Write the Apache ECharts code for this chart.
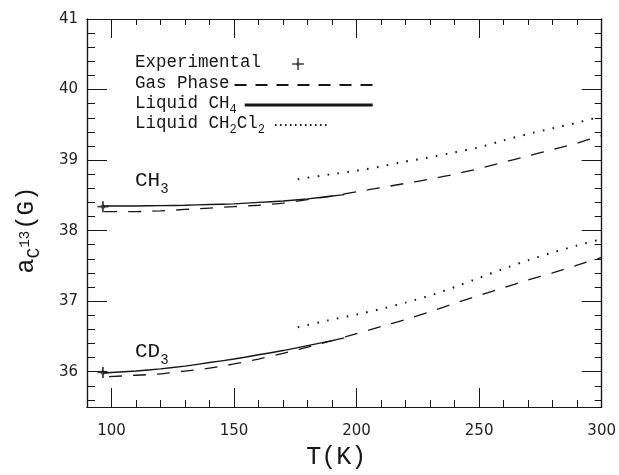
<!DOCTYPE html>
<html>
<head>
<meta charset="utf-8">
<script src="https://cdn.jsdelivr.net/npm/echarts@6/dist/echarts.min.js"></script>
<style>
html, body { margin: 0; padding: 0; background: #fff; }
#chart { width: 619px; height: 475px; }
</style>
</head>
<body>
<div id="chart"></div>
<script>
// axis ranges and tick labels
var tMin = 90, tMax = 300;
var aMin = 35.5, aMax = 41;
var xMajor = [100, 150, 200, 250, 300];
var yMajor = [36, 37, 38, 39, 40, 41];

// experimental points
var expT = [96.5, 96.5];
var expA = [38.34, 35.99];

// CH3 curves
var gasCH3T = [97, 110, 120, 130, 140, 150, 160, 170, 180, 190, 200, 210, 220, 230, 240, 250, 260, 270, 280, 290, 300];
var gasCH3 = [38.27, 38.27, 38.28, 38.30, 38.32, 38.34, 38.36, 38.39, 38.44, 38.49, 38.55, 38.61, 38.67, 38.73, 38.80, 38.88, 38.97, 39.06, 39.15, 39.24, 39.35];
var ch4CH3T = [96.5, 110, 120, 130, 140, 150, 160, 170, 180, 190, 195];
var ch4CH3 = [38.35, 38.35, 38.355, 38.36, 38.37, 38.38, 38.40, 38.42, 38.45, 38.49, 38.51];
var cl2CH3T = [176, 190, 200, 210, 220, 230, 240, 250, 260, 270, 280, 290, 300];
var cl2CH3 = [38.73, 38.80, 38.85, 38.91, 38.98, 39.04, 39.11, 39.18, 39.28, 39.37, 39.45, 39.53, 39.62];

// CD3 curves
var gasCD3T = [99, 110, 120, 130, 140, 150, 160, 170, 180, 190, 200, 210, 220, 230, 240, 250, 260, 270, 280, 290, 300];
var gasCD3 = [35.93, 35.95, 35.97, 36.01, 36.05, 36.11, 36.18, 36.26, 36.35, 36.44, 36.54, 36.64, 36.74, 36.85, 36.97, 37.08, 37.19, 37.30, 37.40, 37.51, 37.62];
var ch4CD3T = [96.5, 100, 110, 120, 130, 140, 150, 160, 170, 180, 190, 195];
var ch4CD3 = [35.98, 35.99, 36.01, 36.04, 36.08, 36.13, 36.18, 36.24, 36.30, 36.37, 36.44, 36.48];
var cl2CD3T = [176, 190, 200, 210, 220, 230, 240, 250, 260, 270, 280, 290, 300];
var cl2CD3 = [36.63, 36.74, 36.81, 36.89, 36.98, 37.08, 37.20, 37.33, 37.46, 37.58, 37.69, 37.79, 37.88];

function zip(xs, ys) {
  return xs.map(function (x, i) { return [x, ys[i]]; });
}

// minor ticks: every 10 K and every 0.2 G
var xMinor = [];
for (var t = tMin; t < tMax; t += 10) { if (t % 50 !== 0) xMinor.push(t); }
var yMinor = [];
for (var k = 1; k < 28; k++) {
  var v = Math.round((aMin + 0.1 + (k - 1) * 0.2) * 10) / 10;
  if (v < aMax && Math.abs(v - Math.round(v)) > 0.01) yMinor.push(v);
}

var ink = '#161616';
var mono = 'Liberation Mono';

function xAx(pos, ticks, len, labels) {
  return {
    type: 'value', position: pos, min: tMin, max: tMax,
    axisLine: { show: true, lineStyle: { color: ink, width: 1.2 } },
    axisTick: { show: true, inside: true, length: len, customValues: ticks, lineStyle: { color: ink, width: 1 } },
    axisLabel: labels ? { show: true, customValues: xMajor, margin: 17, color: '#222', fontFamily: 'DejaVu Sans', fontSize: 15 } : { show: false },
    splitLine: { show: false }
  };
}
function yAx(pos, ticks, len, labels) {
  return {
    type: 'value', position: pos, min: aMin, max: aMax,
    axisLine: { show: true, lineStyle: { color: ink, width: 1.2 } },
    axisTick: { show: true, inside: true, length: len, customValues: ticks, lineStyle: { color: ink, width: 1 } },
    axisLabel: labels ? { show: true, customValues: yMajor, margin: 9, color: '#222', fontFamily: 'DejaVu Sans', fontSize: 15 } : { show: false },
    splitLine: { show: false }
  };
}

var xAxes = [xAx('bottom', xMajor, 19, true), xAx('bottom', xMinor, 7, false), xAx('top', xMajor, 19, false), xAx('top', xMinor, 6, false)];
xAxes[0].name = 'T(K)';
xAxes[0].nameLocation = 'middle';
xAxes[0].nameGap = 38;
xAxes[0].nameTextStyle = { fontFamily: mono, fontSize: 25, color: ink, padding: [0, 16, 0, 0] };

var yAxes = [yAx('left', yMajor, 20, true), yAx('left', yMinor, 8, false), yAx('right', yMajor, 20, false), yAx('right', yMinor, 7, false)];
yAxes[0].name = '{a|a}{c|C}{d|13}{g|(G)}';
yAxes[0].nameLocation = 'middle';
yAxes[0].nameRotate = 90;
yAxes[0].nameGap = 44;
yAxes[0].nameTextStyle = {
  fontFamily: mono, color: ink, padding: [0, 34, 0, 0],
  rich: {
    a: { fontFamily: mono, fontSize: 25, color: ink, verticalAlign: 'bottom', padding: [0, 0, 4, 0] },
    c: { fontFamily: mono, fontSize: 18, color: ink, verticalAlign: 'bottom' },
    d: { fontFamily: mono, fontSize: 14, color: ink, verticalAlign: 'bottom', padding: [0, 0, 11, 0] },
    g: { fontFamily: mono, fontSize: 24, color: ink, verticalAlign: 'bottom', padding: [0, 0, 4, 1] }
  }
};

var crossLegend = 'path://M0,5.2H12V6.8H0Z M5.2,0H6.8V12H5.2Z M6,3.4L8.6,6L6,8.6L3.4,6Z';
var crossMark = 'path://M0,5H12V7H0Z M5,0H7V12H5Z M6,2.6L9.4,6L6,9.4L2.6,6Z';

var legendText = {
  fontFamily: mono, fontSize: 17.5, color: ink,
  rich: {
    t: { fontFamily: mono, fontSize: 17.5, color: ink, verticalAlign: 'bottom', padding: [0, 0, 4, 0] },
    s: { fontFamily: mono, fontSize: 12, color: ink, verticalAlign: 'bottom' }
  }
};
function legendItem(top, name, label, w, h, gap) {
  var ts = Object.assign({}, legendText, { padding: [0, gap, 0, 0] });
  return {
    left: 135, top: top, padding: 0, align: 'right', orient: 'vertical',
    selectedMode: false, itemWidth: w, itemHeight: h,
    data: [name], textStyle: ts,
    formatter: function () { return label; }
  };
}

var dashGas = [13, 11];
var dotCl = [1.6, 8.4];
var noSymbol = { opacity: 0 };

var option = {
  animation: false,
  backgroundColor: '#fff',
  grid: { left: 87, right: 14, top: 19, bottom: 58, containLabel: false },
  xAxis: xAxes,
  yAxis: yAxes,
  legend: [
    legendItem(53, { name: 'Experimental', icon: crossLegend }, '{t|Experimental}', 12, 12, 26),
    legendItem(74, { name: 'Gas Phase', itemStyle: noSymbol, lineStyle: { width: 2.2, type: [12, 9] } }, '{t|Gas Phase}', 138, 14, 0),
    legendItem(94, { name: 'Liquid CH4', itemStyle: noSymbol, lineStyle: { width: 3 } }, '{t|Liquid CH}{s|4}', 128, 14, 3),
    legendItem(114, { name: 'Liquid CH2Cl2', itemStyle: noSymbol, lineStyle: { width: 2, type: [1.6, 3.4] } }, '{t|Liquid CH}{s|2}{t|Cl}{s|2}', 55, 14, 5)
  ],
  graphic: [
    { type: 'text', left: 135, top: 170, style: { text: '{a|CH}{b|3}', rich: {
      a: { fontFamily: mono, fontSize: 21, fill: ink, verticalAlign: 'bottom', padding: [0, 0, 5, 0] },
      b: { fontFamily: mono, fontSize: 14, fill: ink, verticalAlign: 'bottom' } } } },
    { type: 'text', left: 135, top: 341, style: { text: '{a|CD}{b|3}', rich: {
      a: { fontFamily: mono, fontSize: 21, fill: ink, verticalAlign: 'bottom', padding: [0, 0, 5, 0] },
      b: { fontFamily: mono, fontSize: 14, fill: ink, verticalAlign: 'bottom' } } } }
  ],
  series: [
    { name: 'Gas Phase', type: 'line', symbol: 'none', smooth: 0.2, data: zip(gasCH3T, gasCH3), itemStyle: { color: ink }, lineStyle: { color: ink, width: 1.3, type: dashGas } },
    { name: 'Gas Phase', type: 'line', symbol: 'none', smooth: 0.2, data: zip(gasCD3T, gasCD3), itemStyle: { color: ink }, lineStyle: { color: ink, width: 1.3, type: dashGas } },
    { name: 'Liquid CH4', type: 'line', symbol: 'none', smooth: 0.2, data: zip(ch4CH3T, ch4CH3), itemStyle: { color: ink }, lineStyle: { color: ink, width: 1.4 } },
    { name: 'Liquid CH4', type: 'line', symbol: 'none', smooth: 0.2, data: zip(ch4CD3T, ch4CD3), itemStyle: { color: ink }, lineStyle: { color: ink, width: 1.4 } },
    { name: 'Liquid CH2Cl2', type: 'line', symbol: 'none', smooth: 0.2, data: zip(cl2CH3T, cl2CH3), itemStyle: { color: ink }, lineStyle: { color: ink, width: 2, type: dotCl } },
    { name: 'Liquid CH2Cl2', type: 'line', symbol: 'none', smooth: 0.2, data: zip(cl2CD3T, cl2CD3), itemStyle: { color: ink }, lineStyle: { color: ink, width: 2, type: dotCl } },
    { name: 'Experimental', type: 'scatter', symbol: crossMark, symbolSize: 11, data: zip(expT, expA), itemStyle: { color: ink } }
  ]
};

var myChart = echarts.init(document.getElementById('chart'));
myChart.setOption(option);
</script>
</body>
</html>
